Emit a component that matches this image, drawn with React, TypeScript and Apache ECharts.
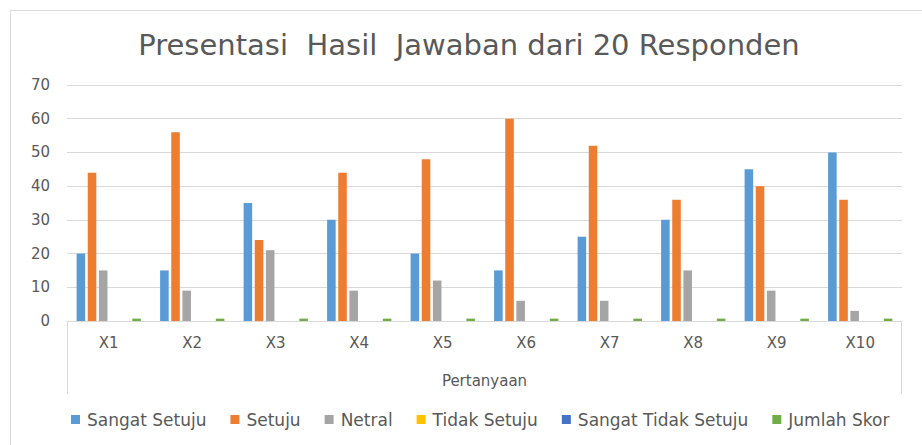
import React, { useEffect, useRef } from "react";
import * as echarts from "echarts";

const categories = ["X1", "X2", "X3", "X4", "X5", "X6", "X7", "X8", "X9", "X10"];
const sangatSetuju = [20, 15, 35, 30, 20, 15, 25, 30, 45, 50];
const setuju = [44, 56, 24, 44, 48, 60, 52, 36, 40, 36];
const netral = [15, 9, 21, 9, 12, 6, 6, 15, 9, 3];
const tidakSetuju = [0, 0, 0, 0, 0, 0, 0, 0, 0, 0];
const sangatTidakSetuju = [0, 0, 0, 0, 0, 0, 0, 0, 0, 0];
const jumlahSkor = [0.7, 0.7, 0.7, 0.7, 0.7, 0.7, 0.7, 0.7, 0.7, 0.7];

const seriesDefs = [
  { name: "Sangat Setuju", data: sangatSetuju, color: "#5B9BD5" },
  { name: "Setuju", data: setuju, color: "#ED7D31" },
  { name: "Netral", data: netral, color: "#A5A5A5" },
  { name: "Tidak Setuju", data: tidakSetuju, color: "#FFC000" },
  { name: "Sangat Tidak Setuju", data: sangatTidakSetuju, color: "#4472C4" },
  { name: "Jumlah Skor", data: jumlahSkor, color: "#70AD47" },
];

const FONT = "DejaVu Sans";
const TXT = "#595959";

export default function App() {
  const ref = useRef<HTMLDivElement>(null);
  useEffect(() => {
    if (!ref.current) return;
    const chart = echarts.init(ref.current, undefined, { renderer: "svg" });
    chart.setOption({
      animation: false,
      backgroundColor: "#ffffff",
      title: {
        text: "Presentasi  Hasil  Jawaban dari 20 Responden",
        left: 464,
        textAlign: "center",
        top: 25,
        textStyle: { fontFamily: FONT, fontSize: 29, fontWeight: "normal", color: TXT },
      },
      legend: {
        bottom: 12,
        left: 66,
        icon: "rect",
        itemWidth: 9,
        itemHeight: 9,
        itemGap: 24,
        textStyle: { fontFamily: FONT, fontSize: 17, color: TXT, padding: [0, 0, 0, 2] },
        data: seriesDefs.map((s) => s.name),
      },
      grid: { left: 67, right: 20, top: 85, bottom: 124, containLabel: false },
      xAxis: {
        type: "category",
        data: categories,
        name: "Pertanyaan",
        nameLocation: "middle",
        nameGap: 52,
        nameTextStyle: { fontFamily: FONT, fontSize: 15, color: TXT },
        axisLine: { lineStyle: { color: "#D9D9D9", width: 1 } },
        axisTick: { show: false },
        axisLabel: { fontFamily: FONT, fontSize: 15, color: TXT, margin: 14 },
      },
      yAxis: {
        type: "value",
        min: 0,
        max: 70,
        interval: 10,
        axisLine: { show: false },
        axisTick: { show: false },
        axisLabel: { fontFamily: FONT, fontSize: 15, color: TXT, margin: 17 },
        splitLine: { lineStyle: { color: "#D9D9D9", width: 1 } },
      },
      series: seriesDefs.map((s) => ({
        type: "bar",
        name: s.name,
        data: s.data,
        itemStyle: { color: s.color },
        barGap: "30%",
        barCategoryGap: "23%",
      })),
      graphic: [
        { type: "line", shape: { x1: 67.5, y1: 321, x2: 67.5, y2: 394 }, style: { stroke: "#D9D9D9", lineWidth: 1 } },
        { type: "line", shape: { x1: 901.5, y1: 321, x2: 901.5, y2: 394 }, style: { stroke: "#D9D9D9", lineWidth: 1 } },
        { type: "line", shape: { x1: 10.5, y1: 10.5, x2: 10.5, y2: 445 }, style: { stroke: "#D9D9D9", lineWidth: 1 } },
        { type: "line", shape: { x1: 10.5, y1: 10.5, x2: 922, y2: 10.5 }, style: { stroke: "#D9D9D9", lineWidth: 1 } },
      ],
    });
    return () => chart.dispose();
  }, []);
  return (
    <div
      ref={ref}
      style={{ position: "absolute", left: 0, top: 0, width: 922, height: 445 }}
    />
  );
}
